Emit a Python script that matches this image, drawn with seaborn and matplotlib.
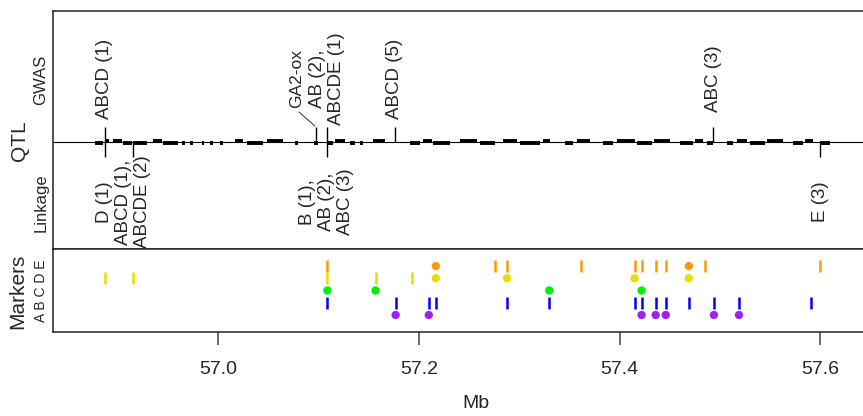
import matplotlib
matplotlib.use("Agg")
import matplotlib.pyplot as plt
import seaborn as sns
import pandas as pd

# ---------------- data ----------------
# QTL annotations (Mb)
gwas_pos = [56.887, 57.1085, 57.176, 57.4935]
gwas_lab = ["ABCD (1)", "AB (2),\nABCDE (1)", "ABCD (5)", "ABC (3)"]
ga2ox_pos = 57.0976
ga2ox_lab = "GA2-ox"
link_pos = [56.887, 56.915, 57.1085, 57.600]
link_lab = ["D (1)", "ABCD (1),\nABCDE (2)", "B (1),\nAB (2),\nABC (3)", "E (3)"]

# gene blocks along the QTL axis (start, end, strand)
gene_start = [56.8775, 56.8875, 56.8955, 56.9054, 56.9154, 56.9353, 56.9452, 56.9642,
              56.9721, 56.9841, 56.9920, 57.0020, 57.0169, 57.0289, 57.0488, 57.0767,
              57.0956, 57.1095, 57.1165, 57.1314, 57.1414, 57.1543, 57.1912, 57.2041,
              57.2141, 57.2409, 57.2609, 57.2838, 57.3007, 57.3236, 57.3455, 57.3574,
              57.3833, 57.3973, 57.4172, 57.4341, 57.4600, 57.4749, 57.4869, 57.5068,
              57.5167, 57.5297, 57.5466, 57.5725, 57.5844, 57.5994]
gene_end = [56.8855, 56.8915, 56.9044, 56.9144, 56.9293, 56.9442, 56.9602, 56.9671,
            56.9751, 56.9861, 56.9950, 57.0050, 57.0249, 57.0448, 57.0647, 57.0797,
            57.0996, 57.1145, 57.1264, 57.1364, 57.1444, 57.1663, 57.2011, 57.2131,
            57.2310, 57.2579, 57.2758, 57.2977, 57.3206, 57.3305, 57.3534, 57.3704,
            57.3933, 57.4152, 57.4321, 57.4500, 57.4729, 57.4829, 57.4928, 57.5127,
            57.5267, 57.5446, 57.5625, 57.5824, 57.5924, 57.6093]
gene_strand = [-1, 1, 1, -1, -1, 1, -1, -1,
               -1, -1, -1, -1, 1, -1, 1, -1,
               -1, -1, 1, -1, -1, 1, -1, 1,
               -1, 1, -1, 1, -1, 1, -1, 1,
               -1, 1, -1, 1, -1, 1, -1, -1,
               1, -1, 1, -1, 1, -1]

# Markers: rows A..E; ticks = markers, dots = significant markers
traits = ["A", "B", "C", "D", "E"]
trait_colors = ["#A020F0", "#0000FF", "#00EE00", "#E6E000", "#FF9900"]
tick_E = [57.109, 57.276, 57.288, 57.362, 57.415, 57.422, 57.436, 57.446, 57.485, 57.600]
dot_E = [57.217, 57.469]
tick_D = [56.887, 56.915, 57.109, 57.157, 57.193]
dot_D = [57.217, 57.288, 57.415, 57.469]
tick_C = []
dot_C = [57.109, 57.157, 57.330, 57.422]
tick_B = [57.109, 57.177, 57.210, 57.217, 57.288, 57.330, 57.415, 57.422, 57.436,
          57.446, 57.469, 57.494, 57.519, 57.591]
dot_B = []
tick_A = []
dot_A = [57.177, 57.210, 57.422, 57.436, 57.446, 57.494, 57.519]

x_ticks = [57.0, 57.2, 57.4, 57.6]
x_tick_labels = ["57.0", "57.2", "57.4", "57.6"]

# ---------------- style ----------------
sns.set_style("white")
plt.rcParams["font.family"] = ["Liberation Sans", "DejaVu Sans"]

W, H = 863, 416
fig = plt.figure(figsize=(W / 100, H / 100), dpi=100)

def fx(px):
    return px / W

def fy(py):
    return 1 - py / H

x_left_px, x_right_px = 53, 867
xlim = (56.8357, 57.6465)

ax_top = fig.add_axes([fx(x_left_px), fy(249), fx(x_right_px - x_left_px), (249 - 11) / H])
ax_mk = fig.add_axes([fx(x_left_px), fy(332), fx(x_right_px - x_left_px), (332 - 249) / H])

edge = "#222222"
for ax in (ax_top, ax_mk):
    ax.set_xlim(*xlim)
    for s in ax.spines.values():
        s.set_color(edge)
        s.set_linewidth(1.1)
    ax.spines["right"].set_visible(False)
    ax.set_yticks([])

# ---------------- QTL panel ----------------
ax_top.set_ylim(-107, 131)
ax_top.set_xticks([])
ax_top.axhline(0, color="black", lw=0.8)

gdf = pd.DataFrame({"start": gene_start, "end": gene_end, "strand": gene_strand})
for _, r in gdf.iterrows():
    ax_top.hlines(1.2 * r["strand"], r["start"], r["end"], color="black", lw=2.8)

ax_top.vlines(gwas_pos, 0, 15, color="black", lw=1.0)
ax_top.vlines([ga2ox_pos], 0, 15, color="black", lw=1.0)
ax_top.vlines(link_pos, -15, 0, color="black", lw=1.0)

fs_lab = 13.5
for p, t in zip(gwas_pos, gwas_lab):
    ax_top.text(p, 63, t, rotation=90, ha="center", va="center",
                multialignment="center", fontsize=fs_lab, linespacing=1.15)
ga_x = ga2ox_pos - 19 / 1004.4
ax_top.text(ga_x, 64, ga2ox_lab, rotation=90, ha="center", va="center", fontsize=12.5)
ax_top.plot([ga_x + 2 / 1004.4, ga2ox_pos - 1 / 1004.4], [30, 16], color="#444444", lw=0.8)
for p, t in zip(link_pos, link_lab):
    ax_top.text(p, -60, t, rotation=90, ha="center", va="center",
                multialignment="center", fontsize=fs_lab, linespacing=1.15)

# ---------------- Markers panel ----------------
ax_mk.set_ylim(-0.39, 6.39)
ticks_by = [tick_A, tick_B, tick_C, tick_D, tick_E]
dots_by = [dot_A, dot_B, dot_C, dot_D, dot_E]
for i, (tr, col) in enumerate(zip(traits, trait_colors)):
    yv = i + 1
    if ticks_by[i]:
        ax_mk.vlines(ticks_by[i], yv - 0.5, yv + 0.5, color=col, lw=1.8)

dot_rows = []
for i, tr in enumerate(traits):
    for p in dots_by[i]:
        dot_rows.append({"Mb": p, "row": i + 1, "trait": tr})
ddf = pd.DataFrame(dot_rows)
sns.scatterplot(data=ddf, x="Mb", y="row", hue="trait", hue_order=traits,
                palette=dict(zip(traits, trait_colors)), s=36, edgecolor="none",
                legend=False, ax=ax_mk, zorder=3)
ax_mk.set_xlabel("")
ax_mk.set_ylabel("")
ax_mk.set_yticks([])
ax_mk.set_xlim(*xlim)
ax_mk.set_xticks(x_ticks)
ax_mk.set_xticklabels(x_tick_labels, fontsize=14)
ax_mk.tick_params(axis="x", direction="out", length=9, width=1.1, color="#444444",
                  pad=12, bottom=True)

# ---------------- outer labels ----------------
fig.text(fx(20), fy(141), "QTL", rotation=90, ha="center", va="center", fontsize=15)
fig.text(fx(41), fy(80), "GWAS", rotation=90, ha="center", va="center", fontsize=12)
fig.text(fx(41), fy(203), "Linkage", rotation=90, ha="center", va="center", fontsize=12)
fig.text(fx(18), fy(291), "Markers", rotation=90, ha="center", va="center", fontsize=15)
fig.text(fx(41), fy(290.5), " ".join(traits), rotation=90, ha="center", va="center",
         fontsize=10)
fig.text(fx(475.5), fy(404), "Mb", ha="center", va="center", fontsize=14)

fig.savefig("out.png", dpi=100)
